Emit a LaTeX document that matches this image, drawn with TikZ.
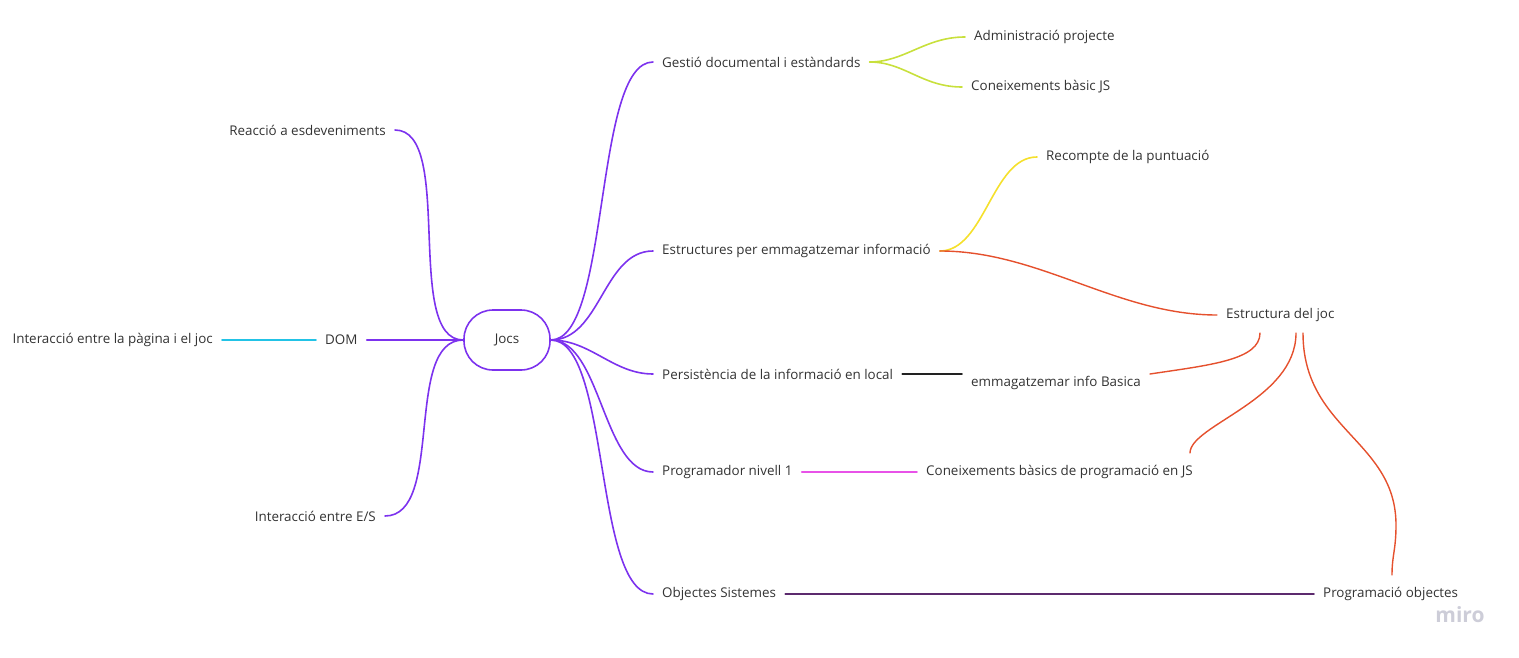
\documentclass[tikz,border=0pt]{standalone}
\usepackage{fontspec}
\setmainfont{Open Sans}
\definecolor{textgray}{RGB}{51,51,51}
\definecolor{mapviolet}{RGB}{124,50,238}
\definecolor{mapcyan}{RGB}{34,195,230}
\definecolor{maplime}{RGB}{200,224,60}
\definecolor{mapyellow}{RGB}{245,224,44}
\definecolor{mapred}{RGB}{229,80,45}
\definecolor{mapmagenta}{RGB}{232,82,232}
\definecolor{mapplum}{RGB}{92,42,110}
\definecolor{mapdark}{RGB}{34,34,34}
\definecolor{logogray}{RGB}{205,205,216}

\begin{document}
\begin{tikzpicture}[x=1pt,y=-1pt,
  topic/.style={font=\fontsize{13.4}{16}\selectfont, text=textgray, inner xsep=9pt, inner ysep=2pt},
  link/.style={line width=1.6pt, line cap=round},
  thinlink/.style={line width=1.4pt, line cap=round}]
% Frame
\useasboundingbox (0,0) rectangle (1519,658);

% Centre
\node[topic, draw=mapviolet, line width=1.6pt, rounded corners=29pt,
  minimum width=86pt, minimum height=60pt] (jocs) at (507,340) {Jocs};

% Left branches
\node[topic, anchor=west] (dom) at (316,340) {DOM};
\node[topic, anchor=east] (pagina) at (222,340) {Interacció entre la pàgina i el joc};
\node[topic, anchor=east] (reaccio) at (395,130) {Reacció a esdeveniments};
\node[topic, anchor=east] (entrades) at (385,516) {Interacció entre E/S};

\draw[link, mapviolet] (jocs.west) .. controls +(-60,0) and +(60,0) .. (reaccio.east);
\draw[link, mapviolet] (jocs.west) .. controls +(-60,0) and +(60,0) .. (entrades.east);
\draw[link, mapviolet] (jocs.west) -- (dom.east);
\draw[link, mapcyan] (dom.west) -- (pagina.east);

% Right branches
\node[topic, anchor=west] (gestio) at (653,62) {Gestió documental i estàndards};
\node[topic, anchor=west] (estructures) at (653,251) {Estructures per emmagatzemar informació};
\node[topic, anchor=west] (persistencia) at (653,374) {Persistència de la informació en local};
\node[topic, anchor=west] (programador) at (653,472) {Programador nivell 1};
\node[topic, anchor=west] (objectes) at (653,594) {Objectes Sistemes};

\draw[link, mapviolet] (jocs.east) .. controls +(60,0) and +(-60,0) .. (gestio.west);
\draw[link, mapviolet] (jocs.east) .. controls +(50,0) and +(-50,0) .. (estructures.west);
\draw[link, mapviolet] (jocs.east) .. controls +(40,0) and +(-40,0) .. (persistencia.west);
\draw[link, mapviolet] (jocs.east) .. controls +(50,0) and +(-50,0) .. (programador.west);
\draw[link, mapviolet] (jocs.east) .. controls +(60,0) and +(-60,0) .. (objectes.west);

% Third level
\node[topic, anchor=west] (admin) at (965,37) {Administració projecte};
\node[topic, anchor=west] (basicjs) at (962,87) {Coneixements bàsic JS};
\node[topic, anchor=west] (recompte) at (1037,157) {Recompte de la puntuació};
\node[topic, anchor=west] (joc) at (1217,315) {Estructura del joc};
\node[topic, anchor=north west] (basica) at (962,374) {emmagatzemar info Basica};
\node[topic, anchor=west] (coneix) at (917,472) {Coneixements bàsics de programació en JS};
\node[topic, anchor=west] (progobj) at (1314,594) {Programació objectes};

\coordinate (jocA) at (1260,333);
\coordinate (jocB) at (1296,333);
\coordinate (jocC) at (1303,333);
\coordinate (coneixtop) at (1190,453);
\coordinate (progtop) at (1392,575);

\draw[link, maplime] (gestio.east) .. controls +(35,0) and +(-40,0) .. (admin.west);
\draw[link, maplime] (gestio.east) .. controls +(35,0) and +(-40,0) .. (basicjs.west);
\draw[link, mapyellow] (estructures.east) .. controls +(45,0) and +(-45,0) .. (recompte.west);
\draw[link, mapdark] (persistencia.east) -- (basica.north west);
\draw[link, mapmagenta] (programador.east) -- (coneix.west);
\draw[link, mapplum] (objectes.east) -- (progobj.west);

% Links to the game structure
\draw[thinlink, mapred] (estructures.east) .. controls +(100,0) and +(-100,0) .. (joc.west);
\draw[thinlink, mapred] (basica.north east) .. controls (1210,365) and (1260,360) .. (jocA);
\draw[thinlink, mapred] (coneixtop) .. controls (1190,425) and (1296,400) .. (jocB);
\draw[thinlink, mapred] (jocC) .. controls (1303,430) and (1396,440) .. (1396,525)
  .. controls (1396,550) and (1392,555) .. (progtop);

% Logo
\node[font=\fontsize{21}{21}\selectfont\bfseries, text=logogray] (logo) at (1460,615) {miro};
\end{tikzpicture}
\end{document}
